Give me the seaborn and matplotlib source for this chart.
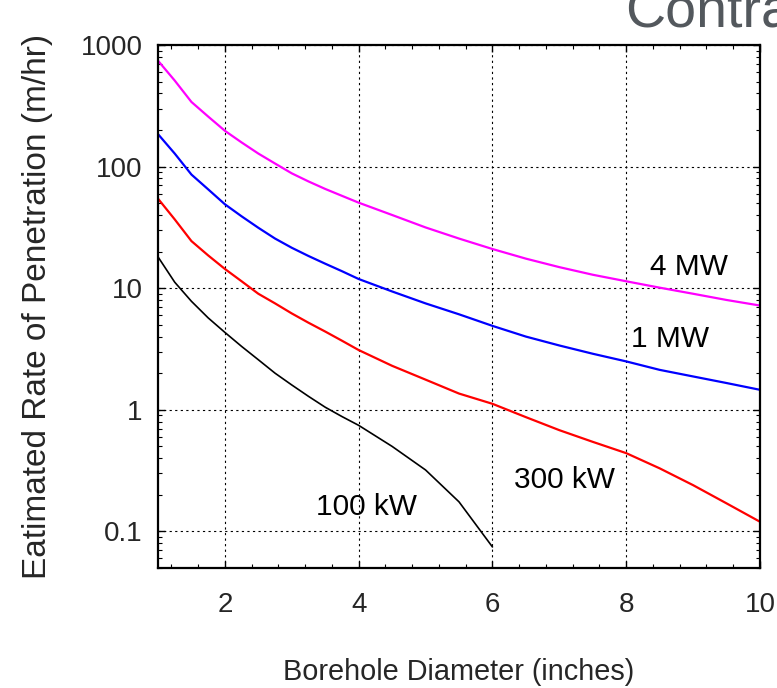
import numpy as np
import pandas as pd
import matplotlib
matplotlib.use("Agg")
import matplotlib.pyplot as plt
import matplotlib.ticker as mticker
import seaborn as sns

# ---- data ----
x_main = [1, 1.25, 1.5, 1.75, 2, 2.25, 2.5, 2.75, 3, 3.25, 3.5, 3.75, 4,
          4.5, 5, 5.5, 6, 6.5, 7, 7.5, 8, 8.5, 9, 9.5, 10]
rop_4mw = [743, 510, 340, 258, 197, 158, 128, 106, 88, 75.5, 65.5, 57.5, 50.5,
           40, 31.6, 25.6, 21.0, 17.5, 14.9, 12.9, 11.4, 10.1, 9.0, 8.0, 7.2]
rop_1mw = [185, 128, 86, 65, 49, 39, 31.4, 25.6, 21.5, 18.4, 15.9, 13.8, 11.9,
           9.4, 7.5, 6.1, 4.9, 4.0, 3.38, 2.89, 2.5, 2.13, 1.88, 1.66, 1.46]
rop_300kw = [54.5, 36.8, 24.4, 18.6, 14.4, 11.4, 9.0, 7.5, 6.2, 5.2, 4.4, 3.7, 3.1,
             2.3, 1.77, 1.36, 1.12, 0.87, 0.68, 0.545, 0.44, 0.33, 0.24, 0.17, 0.12]
x_100kw = [1, 1.25, 1.5, 1.75, 2, 2.25, 2.5, 2.75, 3, 3.25, 3.5, 3.75, 4,
           4.5, 5, 5.5, 6]
rop_100kw = [18.1, 11.2, 7.8, 5.7, 4.33, 3.32, 2.58, 2.0, 1.6, 1.29, 1.05, 0.88, 0.745,
             0.50, 0.32, 0.175, 0.0745]

series_names = ["4 MW", "1 MW", "300 kW", "100 kW"]
series_colors = ["#ff00ff", "#0000ff", "#ff0000", "#000000"]
label_pos = {"4 MW": (8.94, 12.9), "1 MW": (8.65, 3.30),
             "300 kW": (7.08, 0.227), "100 kW": (4.12, 0.136)}
x_ticks = [2, 4, 6, 8, 10]
y_ticks = [0.1, 1, 10, 100, 1000]
y_tick_labels = ["0.1", "1", "10", "100", "1000"]

frames = []
for name, xs, ys in [("4 MW", x_main, rop_4mw), ("1 MW", x_main, rop_1mw),
                     ("300 kW", x_main, rop_300kw), ("100 kW", x_100kw, rop_100kw)]:
    frames.append(pd.DataFrame({"d": xs, "rop": ys, "s": name}))
df = pd.concat(frames, ignore_index=True)

sns.set_style("white")
plt.rcParams["font.family"] = ["Liberation Sans", "DejaVu Sans"]

fig = plt.figure(figsize=(7.77, 6.88), dpi=100)
ax = fig.add_axes([158 / 777, 1 - 568 / 688, (760 - 158) / 777, (568 - 45) / 688])

palette = dict(zip(series_names, series_colors))
sns.lineplot(data=df, x="d", y="rop", hue="s", palette=palette, legend=False,
             ax=ax, linewidth=1.6, estimator=None, sort=True)
for line in ax.get_lines():
    if line.get_color() in ("#000000", "k"):
        line.set_linewidth(1.2)

ax.set_yscale("log")
ax.set_xlim(1, 10)
ax.set_ylim(0.05, 1000)
ax.set_xticks(x_ticks)
ax.set_xticklabels([str(t) for t in x_ticks])
ax.set_yticks(y_ticks)
ax.set_yticklabels(y_tick_labels)
ax.xaxis.set_minor_locator(mticker.AutoMinorLocator(5))
ax.yaxis.set_minor_locator(mticker.LogLocator(base=10, subs=np.arange(2, 10)))
ax.yaxis.set_minor_formatter(mticker.NullFormatter())

ax.grid(True, which="major", color="black", linestyle=(0, (2, 3)), linewidth=0.8)
for sp in ax.spines.values():
    sp.set_visible(True)
    sp.set_color("black")
    sp.set_linewidth(1.6)

ax.tick_params(which="both", direction="in", top=True, right=True, bottom=True, left=True,
               color="black")
ax.tick_params(which="major", length=5, width=1.0)
ax.tick_params(which="minor", length=3, width=0.8)
ax.tick_params(axis="x", which="major", labelsize=20, pad=17)
ax.tick_params(axis="y", which="major", labelsize=20, pad=11)

ax.set_xlabel("Borehole Diameter (inches)", fontsize=20.8, labelpad=29)
ax.set_ylabel("Eatimated Rate of Penetration (m/hr)", fontsize=24, labelpad=20)

for name in series_names:
    lx, ly = label_pos[name]
    ax.text(lx, ly, name, fontsize=21.5, ha="center", va="baseline", color="black")

fig.text(625 / 777, 1 - 27 / 688, "Contra", fontsize=40, color="#53585d",
         ha="left", va="baseline")

fig.savefig("out.png", dpi=100)
